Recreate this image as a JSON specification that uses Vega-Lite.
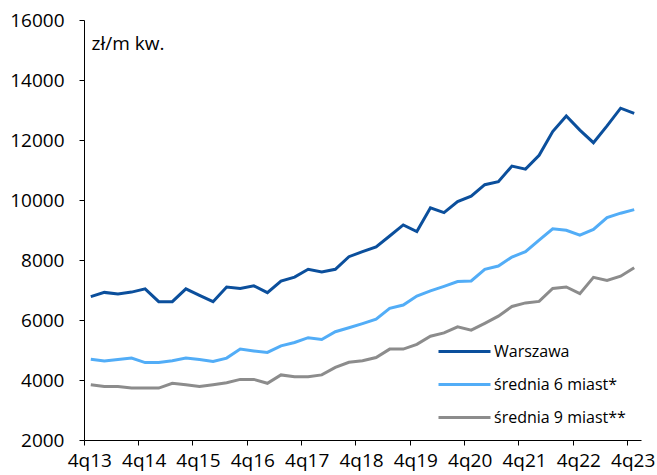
{
  "$schema": "https://vega.github.io/schema/vega-lite/v6.json",
  "width": 557,
  "height": 420,
  "autosize": {"type": "none"},
  "padding": {"left": 84, "top": 20, "right": 16, "bottom": 35},
  "background": "white",
  "config": {"view": {"stroke": null}, "font": "Open Sans"},
  "data": {
    "values": [
      {"q": "4q13", "Warszawa": 6780, "średnia 6 miast*": 4690, "średnia 9 miast**": 3840},
      {"q": "1q14", "Warszawa": 6920, "średnia 6 miast*": 4630, "średnia 9 miast**": 3780},
      {"q": "2q14", "Warszawa": 6870, "średnia 6 miast*": 4680, "średnia 9 miast**": 3780},
      {"q": "3q14", "Warszawa": 6930, "średnia 6 miast*": 4730, "średnia 9 miast**": 3730},
      {"q": "4q14", "Warszawa": 7040, "średnia 6 miast*": 4580, "średnia 9 miast**": 3730},
      {"q": "1q15", "Warszawa": 6610, "średnia 6 miast*": 4580, "średnia 9 miast**": 3730},
      {"q": "2q15", "Warszawa": 6610, "średnia 6 miast*": 4640, "średnia 9 miast**": 3890},
      {"q": "3q15", "Warszawa": 7040, "średnia 6 miast*": 4730, "średnia 9 miast**": 3840},
      {"q": "4q15", "Warszawa": 6820, "średnia 6 miast*": 4680, "średnia 9 miast**": 3780},
      {"q": "1q16", "Warszawa": 6610, "średnia 6 miast*": 4620, "średnia 9 miast**": 3840},
      {"q": "2q16", "Warszawa": 7100, "średnia 6 miast*": 4730, "średnia 9 miast**": 3910},
      {"q": "3q16", "Warszawa": 7050, "średnia 6 miast*": 5030, "średnia 9 miast**": 4020},
      {"q": "4q16", "Warszawa": 7140, "średnia 6 miast*": 4970, "średnia 9 miast**": 4020},
      {"q": "1q17", "Warszawa": 6910, "średnia 6 miast*": 4920, "średnia 9 miast**": 3890},
      {"q": "2q17", "Warszawa": 7300, "średnia 6 miast*": 5140, "średnia 9 miast**": 4170},
      {"q": "3q17", "Warszawa": 7430, "średnia 6 miast*": 5250, "średnia 9 miast**": 4110},
      {"q": "4q17", "Warszawa": 7690, "średnia 6 miast*": 5410, "średnia 9 miast**": 4110},
      {"q": "1q18", "Warszawa": 7600, "średnia 6 miast*": 5350, "średnia 9 miast**": 4170},
      {"q": "2q18", "Warszawa": 7690, "średnia 6 miast*": 5610, "średnia 9 miast**": 4420},
      {"q": "3q18", "Warszawa": 8110, "średnia 6 miast*": 5740, "średnia 9 miast**": 4590},
      {"q": "4q18", "Warszawa": 8280, "średnia 6 miast*": 5880, "średnia 9 miast**": 4640},
      {"q": "1q19", "Warszawa": 8440, "średnia 6 miast*": 6030, "średnia 9 miast**": 4750},
      {"q": "2q19", "Warszawa": 8800, "średnia 6 miast*": 6390, "średnia 9 miast**": 5030},
      {"q": "3q19", "Warszawa": 9170, "średnia 6 miast*": 6500, "średnia 9 miast**": 5030},
      {"q": "4q19", "Warszawa": 8950, "średnia 6 miast*": 6800, "średnia 9 miast**": 5190},
      {"q": "1q20", "Warszawa": 9740, "średnia 6 miast*": 6970, "średnia 9 miast**": 5460},
      {"q": "2q20", "Warszawa": 9580, "średnia 6 miast*": 7120, "średnia 9 miast**": 5570},
      {"q": "3q20", "Warszawa": 9950, "średnia 6 miast*": 7280, "średnia 9 miast**": 5770},
      {"q": "4q20", "Warszawa": 10130, "średnia 6 miast*": 7300, "średnia 9 miast**": 5660},
      {"q": "1q21", "Warszawa": 10510, "średnia 6 miast*": 7690, "średnia 9 miast**": 5890},
      {"q": "2q21", "Warszawa": 10610, "średnia 6 miast*": 7800, "średnia 9 miast**": 6130},
      {"q": "3q21", "Warszawa": 11130, "średnia 6 miast*": 8100, "średnia 9 miast**": 6450},
      {"q": "4q21", "Warszawa": 11030, "średnia 6 miast*": 8280, "średnia 9 miast**": 6570},
      {"q": "1q22", "Warszawa": 11490, "średnia 6 miast*": 8660, "średnia 9 miast**": 6620},
      {"q": "2q22", "Warszawa": 12280, "średnia 6 miast*": 9040, "średnia 9 miast**": 7050},
      {"q": "3q22", "Warszawa": 12800, "średnia 6 miast*": 8990, "średnia 9 miast**": 7100},
      {"q": "4q22", "Warszawa": 12330, "średnia 6 miast*": 8830, "średnia 9 miast**": 6880},
      {"q": "1q23", "Warszawa": 11910, "średnia 6 miast*": 9020, "średnia 9 miast**": 7420},
      {"q": "2q23", "Warszawa": 12470, "średnia 6 miast*": 9410, "średnia 9 miast**": 7320},
      {"q": "3q23", "Warszawa": 13060, "średnia 6 miast*": 9560, "średnia 9 miast**": 7460},
      {"q": "4q23", "Warszawa": 12890, "średnia 6 miast*": 9680, "średnia 9 miast**": 7740}
    ]
  },
  "transform": [
    {"fold": ["Warszawa", "średnia 6 miast*", "średnia 9 miast**"], "as": ["seria", "wartosc"]}
  ],
  "mark": {"type": "line", "strokeWidth": 3},
  "encoding": {
    "x": {
      "field": "q",
      "type": "ordinal",
      "sort": null,
      "scale": {"type": "band", "paddingInner": 0, "paddingOuter": 0},
      "axis": {
        "title": null,
        "values": ["4q13", "4q14", "4q15", "4q16", "4q17", "4q18", "4q19", "4q20", "4q21", "4q22", "4q23"],
        "bandPosition": 0,
        "labelOffset": -1,
        "labelAngle": 0,
        "labelFlush": false,
        "labelOverlap": false,
        "labelFontSize": 19,
        "labelColor": "#000000",
        "labelPadding": 6,
        "tickSize": 5,
        "tickColor": "#000000",
        "domainColor": "#000000",
        "grid": false
      }
    },
    "y": {
      "field": "wartosc",
      "type": "quantitative",
      "scale": {"domain": [2000, 16000], "nice": false, "zero": false},
      "axis": {
        "values": [2000, 4000, 6000, 8000, 10000, 12000, 14000, 16000],
        "grid": false,
        "format": "d",
        "labelFontSize": 19,
        "labelColor": "#000000",
        "labelPadding": 15,
        "tickSize": 5,
        "tickColor": "#000000",
        "domainColor": "#000000",
        "title": "zł/m  kw.",
        "titleAngle": 0,
        "titleX": 7,
        "titleY": 23,
        "titleAlign": "left",
        "titleBaseline": "middle",
        "titleFontWeight": "normal",
        "titleFontSize": 19,
        "titleColor": "#000000"
      }
    },
    "color": {
      "field": "seria",
      "type": "nominal",
      "scale": {
        "domain": ["Warszawa", "średnia 6 miast*", "średnia 9 miast**"],
        "range": ["#0B4F9C", "#52ADF7", "#8C8C8C"]
      },
      "legend": {
        "title": null,
        "orient": "none",
        "legendX": 353,
        "legendY": 315,
        "symbolType": "stroke",
        "symbolSize": 2704,
        "symbolStrokeWidth": 3,
        "labelFontSize": 16,
        "labelColor": "#000000",
        "labelOffset": 2,
        "clipHeight": 33,
        "rowPadding": 0
      }
    }
  }
}
